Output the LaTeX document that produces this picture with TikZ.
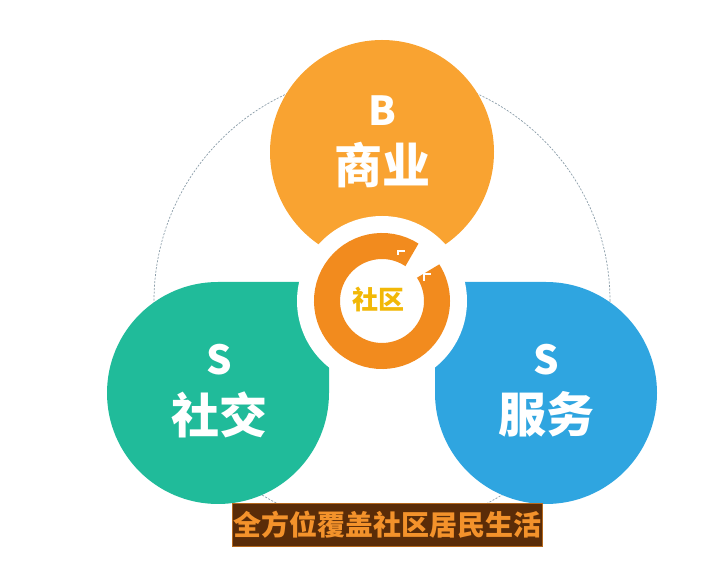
\documentclass[tikz,border=0pt]{standalone}
\usepackage{fontspec}
\newfontfamily\cjk{Noto Sans CJK SC}
\usetikzlibrary{positioning}
\definecolor{bizorange}{HTML}{F9A331}
\definecolor{ringorange}{HTML}{F28B1E}
\definecolor{socgreen}{HTML}{20BB9A}
\definecolor{servblue}{HTML}{2FA5E0}
\definecolor{slogbrown}{HTML}{5A2C08}
\definecolor{slogtext}{HTML}{F3922B}
\definecolor{hubyellow}{HTML}{F2B807}
\definecolor{orbitgray}{HTML}{8A9CA8}
\tikzset{
  letter/.style={
    text=white,
    inner sep=0pt,
    font=\cjk\bfseries\fontsize{40}{40}\selectfont
    },
  word/.style={
    text=white,
    inner sep=0pt,
    font=\cjk\bfseries\fontsize{48}{48}\selectfont
    },
  tick/.style={white, line width=1.5pt},
}

\begin{document}
\begin{tikzpicture}[
            x = 1pt, y = 1pt, % one unit per pixel
            node distance = 16pt
        ]
         \useasboundingbox (0,0) rectangle (720,567);

         % dashed orbit behind
         \node[circle, draw=orbitgray, line width=0.7pt, dash pattern=on 2pt off 1.5pt,
               minimum size=456pt, inner sep=0pt] (orbit) at (382,266) {};

         % three parts
         \node[circle, fill=bizorange, minimum size=224pt, inner sep=0pt] (biz) at (382,415) {};
         \fill[socgreen] (107,174) arc[start angle=180, end angle=90, radius=111]
               -- (329,285) -- (329,174) arc[start angle=0, end angle=-180, radius=111] -- cycle;
         \fill[servblue] (657,174) arc[start angle=0, end angle=90, radius=111]
               -- (435,285) -- (435,174) arc[start angle=180, end angle=360, radius=111] -- cycle;

         % hub
         \fill[white] (382,266) circle[radius=85];
         \draw[ringorange, line width=26pt] (382,266) ++(57:55) arc[start angle=57, end angle=393, radius=55];
         \draw[tick] (398,312) -- (398,316) -- (405,316);
         \draw[tick] (424,286) -- (424,293) -- (431,293);
         \node[text=hubyellow, inner sep=0pt, font=\cjk\bfseries\fontsize{26}{26}\selectfont] (hub) at (378,267) {社区};

         % labels
         \node[letter] (bizB) at (382,456) {B};
         \node[word, below=of bizB] (bizword) {商业};
         \node[letter] (socS) at (219,207) {S};
         \node[word, below=of socS] (socword) {社交};
         \node[letter] (servS) at (546,207) {S};
         \node[word, below=of servS] (servword) {服务};

         \node[draw=slogtext!60!slogbrown, fill=slogbrown, text=slogtext,
               minimum width=310pt, minimum height=43pt, inner sep=0pt,
               font=\cjk\bfseries\fontsize{28}{28}\selectfont] (slogan) at (387,42.5) {全方位覆盖社区居民生活};
\end{tikzpicture}
\end{document}
